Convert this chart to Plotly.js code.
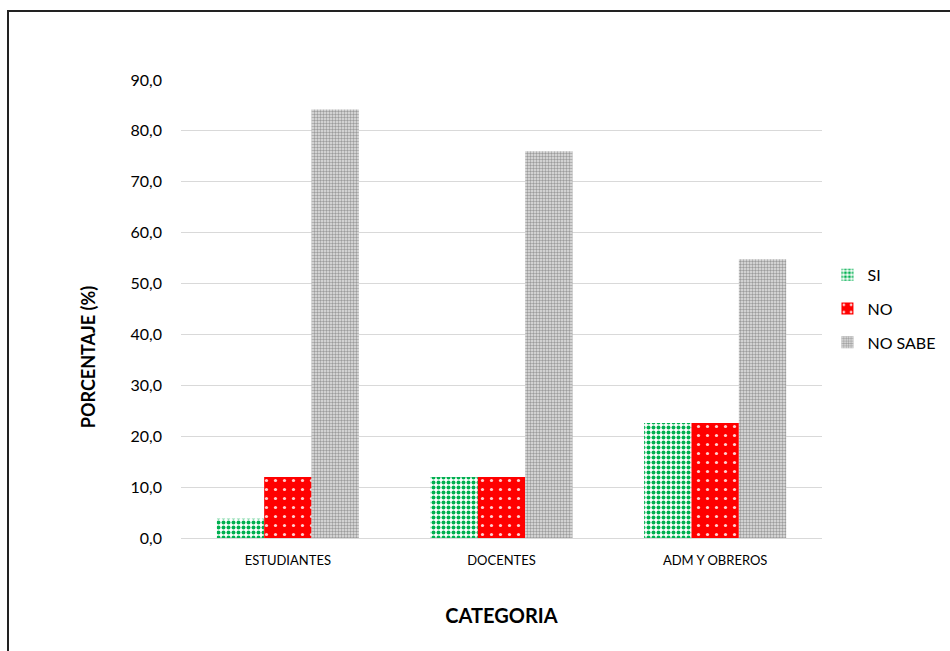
<!DOCTYPE html>
<html>
<head>
<meta charset="utf-8">
<script src="https://cdn.plot.ly/plotly-3.0.1.min.js"></script>
<style>
  html, body { margin: 0; padding: 0; background: #fff; }
  #wrap { position: relative; width: 950px; height: 651px; overflow: hidden; }
  #chart { position: absolute; left: 0; top: 0; width: 950px; height: 651px; }
  #frame { position: absolute; left: 7px; top: 10px; width: 960px; height: 660px;
           border-left: 2px solid #222; border-top: 2px solid #222; pointer-events: none; }
</style>
</head>
<body>
<div id="wrap">
  <div id="chart"></div>
  <div id="frame"></div>
</div>
<script>
const categories = ["ESTUDIANTES", "DOCENTES", "ADM Y OBREROS"];
const seriesNames = ["SI", "NO", "NO SABE"];
const siValues = [3.8, 12.0, 22.6];
const noValues = [12.0, 12.0, 22.6];
const noSabeValues = [84.2, 76.0, 54.8];
const yTicks = [0, 10, 20, 30, 40, 50, 60, 70, 80, 90];

const FONT = "Lato, 'Open Sans', sans-serif";

const traces = [
  {
    type: "bar", name: seriesNames[0], x: categories, y: siValues, legendgroup: "g1",
    marker: {
      color: "#ffffff",
      line: { width: 0 },
      pattern: { shape: ".", fgcolor: "#00b050", bgcolor: "#ffffff", size: 5, solidity: 0.5, fillmode: "replace" }
    },
    hoverinfo: "skip"
  },
  {
    type: "bar", name: seriesNames[1], x: categories, y: noValues, legendgroup: "g2",
    marker: {
      color: "#ff0000",
      line: { width: 0 },
      pattern: { shape: ".", fgcolor: "#ffd0d0", bgcolor: "#ff0000", size: 9, solidity: 0.1, fillmode: "replace" }
    },
    hoverinfo: "skip"
  },
  {
    type: "bar", name: seriesNames[2], x: categories, y: noSabeValues, legendgroup: "g3",
    marker: {
      color: "#bfbfbf",
      line: { width: 0 },
      pattern: { shape: ".", fgcolor: "#9c9c9c", bgcolor: "#e4e4e4", size: 3, solidity: 0.5, fillmode: "replace" }
    },
    hoverinfo: "skip"
  }
];

const layout = {
  width: 950, height: 651,
  paper_bgcolor: "#ffffff", plot_bgcolor: "#ffffff",
  margin: { l: 181, r: 128, t: 80, b: 113 },
  separators: ",.",
  font: { family: FONT, color: "#000000", size: 15 },
  barmode: "group",
  bargap: 0.335,
  bargroupgap: 0,
  showlegend: true,
  legend: {
    xref: "container", yref: "container",
    x: 0.871, y: 0.604, xanchor: "left", yanchor: "top",
    font: { family: FONT, size: 16, color: "#000" },
    tracegroupgap: 10, itemwidth: 30
  },
  xaxis: {
    type: "category",
    showgrid: false,
    showline: true, linecolor: "#d9d9d9", linewidth: 1,
    ticks: "",
    ticklabelstandoff: 10,
    tickfont: { family: FONT, size: 13, color: "#000" },
    title: { text: "<b>CATEGORIA</b>", font: { family: FONT, size: 20, color: "#000" }, standoff: 42 }
  },
  yaxis: {
    range: [0, 90],
    tickvals: yTicks,
    tickformat: ".1f",
    showgrid: true, gridcolor: "#d9d9d9", gridwidth: 1,
    zeroline: false,
    showline: false,
    ticks: "",
    ticklabelstandoff: 18,
    tickfont: { family: FONT, size: 16, color: "#000" }
  },
  annotations: [
    {
      text: "<b>PORCENTAJE (%)</b>",
      xref: "paper", yref: "paper",
      x: -0.145, y: 0.395, xanchor: "center", yanchor: "middle",
      textangle: -90, showarrow: false,
      font: { family: FONT, size: 18, color: "#000" }
    }
  ]
};

Plotly.newPlot("chart", traces, layout, { displayModeBar: false, staticPlot: true });
</script>
</body>
</html>
